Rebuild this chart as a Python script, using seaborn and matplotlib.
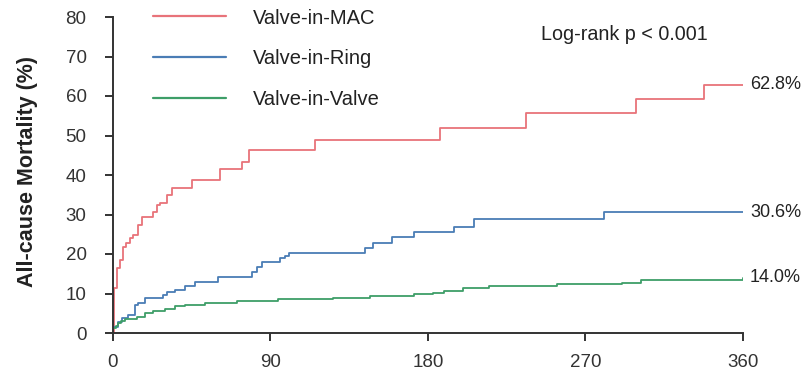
import matplotlib
matplotlib.use("Agg")
import matplotlib.pyplot as plt
import seaborn as sns
import pandas as pd

groups = ["Valve-in-MAC", "Valve-in-Ring", "Valve-in-Valve"]
colors = ["#E8737A", "#4A7DB5", "#3E9E68"]

mac_t = [0, 0.3, 2.1, 4, 5.9, 7.2, 9.7, 11.6, 14.5, 16.4, 23.1, 25, 26.9, 30.7, 33.6, 45, 61, 73.6, 77.5,
         115.6, 187, 236, 298.8, 338, 360]
mac_v = [0, 11.5, 16.5, 18.5, 21.8, 22.7, 24.0, 24.8, 27.3, 29.3, 30.7, 32.4, 32.8, 34.9, 36.6, 38.8, 41.4,
         43.4, 46.3, 48.9, 51.8, 55.6, 59.2, 62.8, 62.8]

ring_t = [0, 0.2, 3, 5, 8.8, 12.6, 14.5, 18.3, 28.8, 30.7, 35.5, 41.2, 46.9, 60.3, 79.4, 82.2, 85, 95.6, 98.5,
          100.4, 144, 148.6, 159.5, 171.9, 194.8, 206.6, 280.6, 360]
ring_v = [0, 1.5, 2.8, 3.8, 4.6, 7.1, 7.5, 8.8, 9.6, 10.5, 10.9, 11.9, 13.0, 14.3, 15.5, 16.8, 17.9, 18.9, 19.6,
          20.2, 21.4, 22.9, 24.2, 25.5, 26.9, 28.9, 30.6, 30.6]

valve_t = [0, 0.2, 1.5, 3, 4.5, 6.8, 13.5, 18.3, 23.1, 29.8, 35.5, 41.2, 52.7, 70.8, 94.5, 126, 147, 172, 183,
           189, 200, 215, 254, 291, 302, 360]
valve_v = [0, 1.2, 1.8, 2.5, 3.0, 3.6, 4.1, 5.0, 5.6, 6.2, 6.8, 7.1, 7.7, 8.1, 8.6, 8.9, 9.3, 9.8, 10.2,
           10.7, 11.3, 11.9, 12.4, 12.7, 13.3, 14.0]

end_labels = ["62.8%", "30.6%", "14.0%"]
x_ticks = [0, 90, 180, 270, 360]
y_ticks = [0, 10, 20, 30, 40, 50, 60, 70, 80]
ylabel = "All-cause Mortality (%)"
pval_text = "Log-rank p < 0.001"

sns.set_style("ticks")
plt.rcParams["font.family"] = ["Liberation Sans", "DejaVu Sans"]

frames = []
for g, t, v in [(groups[0], mac_t, mac_v), (groups[1], ring_t, ring_v), (groups[2], valve_t, valve_v)]:
    frames.append(pd.DataFrame({"time": t, "mortality": v, "group": g}))
df = pd.concat(frames, ignore_index=True)

fig = plt.figure(figsize=(8.03, 3.79), dpi=100)
ax = fig.add_axes([113 / 803, 1 - 333 / 379, (742.7 - 113) / 803, (333 - 17) / 379])

sns.lineplot(data=df, x="time", y="mortality", hue="group", hue_order=groups,
             palette=colors, drawstyle="steps-post", estimator=None, sort=False,
             linewidth=1.3, ax=ax, legend=True)

ax.set_xlim(0, 360)
ax.set_ylim(0, 80)
ax.set_xticks(x_ticks)
ax.set_yticks(y_ticks)
ax.set_xlabel("")
ax.set_ylabel(ylabel, fontsize=15.5, fontweight="bold", color="#222222")
ax.yaxis.set_label_coords((38 - 113) / 629.7, 0.51)
ax.tick_params(axis="both", labelsize=13.5, colors="#333333", length=6, width=1.4, direction="out")
ax.tick_params(axis="y", pad=13)
ax.tick_params(axis="x", pad=9)
for s in ["top", "right"]:
    ax.spines[s].set_visible(False)
for s in ["left", "bottom"]:
    ax.spines[s].set_linewidth(1.4)
    ax.spines[s].set_color("#333333")
ax.set_facecolor("white")

leg = ax.legend(loc="upper left", bbox_to_anchor=(153 / 803, 1 - 8.5 / 379),
                bbox_transform=fig.transFigure, frameon=False, fontsize=14.5,
                handlelength=3.6, handletextpad=1.35, labelspacing=1.07,
                borderpad=0, borderaxespad=0)
for line in leg.get_lines():
    line.set_linewidth(1.6)
for txt in leg.get_texts():
    txt.set_color("#222222")

ax.text(541 / 803, 1 - 34 / 379, pval_text, transform=fig.transFigure, fontsize=14.2,
        va="center", ha="left", color="#222222")

finals = [mac_v[-1], ring_v[-1], valve_v[-1]]
for lab, val in zip(end_labels, finals):
    ax.annotate(lab, xy=(360, val), xytext=(5.3, 0), textcoords="offset points",
                fontsize=13, va="center", ha="left", color="#222222", annotation_clip=False)

fig.savefig("out.png", dpi=100, facecolor="white")
